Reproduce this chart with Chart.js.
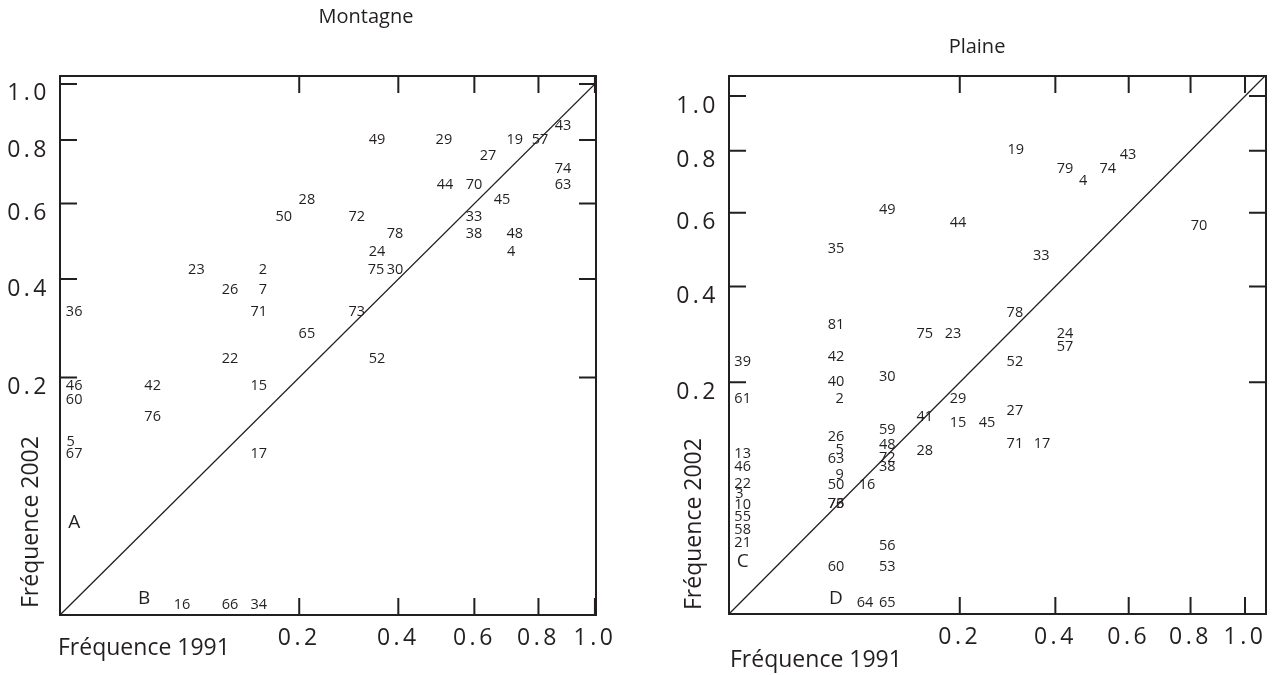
<!DOCTYPE html>
<html>
<head>
<meta charset="utf-8">
<script src="https://cdn.jsdelivr.net/npm/chart.js@4.4.0/dist/chart.umd.min.js"></script>
<style>
  html, body { margin: 0; padding: 0; background: #fff; }
  #wrap { position: relative; width: 1273px; height: 675px; }
  .panel { position: absolute; top: 0; height: 675px; }
  #left { left: 0; width: 636px; }
  #right { left: 636px; width: 637px; }
</style>
</head>
<body>
<div id="wrap">
  <div class="panel" id="left"><canvas id="montagne"></canvas></div>
  <div class="panel" id="right"><canvas id="plaine"></canvas></div>
</div>
<script>
const tickValues = [0.2, 0.4, 0.6, 0.8, 1.0];

// Montagne : numéro de l'espèce, fréquence 1991 (x), fréquence 2002 (y)
const montagneLabels = ['28','50','23','2','26','7','36','71','65','22',
  '46','42','15','60','76','5','67','17','16','66',
  '34','43','49','29','19','57','27','74','44','70',
  '63','45','72','33','78','38','48','24','4','75',
  '30','73','52'];
const montagneX = [0.213,0.175,0.065,0.144,0.101,0.144,0.0007,0.138,0.213,0.101,
  0.0007,0.030,0.138,0.0007,0.030,0.0004,0.0007,0.138,0.052,0.101,
  0.138,0.884,0.351,0.515,0.723,0.805,0.640,0.884,0.518,0.599,
  0.884,0.683,0.308,0.599,0.392,0.599,0.723,0.351,0.711,0.349,
  0.392,0.308,0.351];
const montagneY = [0.611,0.562,0.422,0.422,0.375,0.375,0.326,0.326,0.280,0.232,
  0.186,0.186,0.186,0.164,0.139,0.106,0.092,0.092,0.0004,0.0004,
  0.0004,0.848,0.800,0.800,0.800,0.800,0.747,0.705,0.656,0.656,
  0.656,0.611,0.562,0.562,0.515,0.515,0.515,0.467,0.467,0.422,
  0.422,0.326,0.232];
const montagneZones = ['A', 'B'];
const montagneZonesX = [0.0007, 0.0247];
const montagneZonesY = [0.030, 0.0009];

// Plaine
const plaineLabels = ['49','44','35','81','75','23','39','42','40','30',
  '19','43','79','74','4','70','33','78','24','57',
  '52','61','2','29','41','15','59','26','48','13',
  '5','28','63','72','46','38','9','22','50','16',
  '3','10','73','76','55','58','21','56','60','53',
  '64','65','27','45','71','17'];
const plaineX = [0.094,0.197,0.043,0.043,0.144,0.1885,0.0007,0.043,0.043,0.094,
  0.309,0.598,0.424,0.539,0.471,0.830,0.366,0.307,0.424,0.424,
  0.307,0.0007,0.046,0.197,0.144,0.197,0.094,0.043,0.094,0.0007,
  0.046,0.144,0.043,0.094,0.0007,0.094,0.046,0.0007,0.043,0.0715,
  0.0004,0.0007,0.043,0.043,0.0007,0.0007,0.0007,0.094,0.043,0.094,
  0.0695,0.094,0.307,0.25,0.307,0.368];
const plaineY = [0.608,0.570,0.497,0.311,0.292,0.292,0.237,0.246,0.200,0.209,
  0.802,0.785,0.738,0.738,0.699,0.561,0.478,0.338,0.292,0.266,
  0.237,0.172,0.172,0.172,0.145,0.136,0.126,0.117,0.106,0.095,
  0.100,0.099,0.0895,0.0907,0.0805,0.0805,0.072,0.063,0.062,0.062,
  0.0537,0.0443,0.0451,0.0451,0.0351,0.0263,0.0188,0.0172,0.0082,0.0082,
  0.00045,0.00045,0.154,0.136,0.108,0.108];
const plaineZones = ['C', 'D'];
const plaineZonesX = [0.0007, 0.043];
const plaineZonesY = [0.0101, 0.00084];

const ink = '#231f20';
const family = '"Open Sans", "Noto Sans", sans-serif';

// échelle racine carrée
class SqrtScale extends Chart.LinearScale {
  static id = 'sqrt';
  static defaults = Chart.LinearScale.defaults;
  getPixelForValue(value) {
    if (value === null || isNaN(value)) return NaN;
    const t = Math.sqrt(Math.max(0, value - this.min) / (this.max - this.min));
    return this.getPixelForDecimal(t);
  }
  getValueForPixel(pixel) {
    const t = this.getDecimalForPixel(pixel);
    return this.min + t * t * (this.max - this.min);
  }
}
Chart.register(SqrtScale);

const points = (xs, ys) => xs.map((x, i) => ({ x: x, y: ys[i] }));

// letter spacing only for the tick labels
const spacing = {
  id: 'spacing',
  beforeDraw(chart) { chart.ctx.letterSpacing = '3.5px'; },
  beforeDatasetsDraw(chart) { chart.ctx.letterSpacing = '0px'; }
};

const textLabels = {
  id: 'textLabels',
  afterDatasetsDraw(chart) {
    const ctx = chart.ctx;
    chart.data.datasets.forEach((ds, i) => {
      if (!ds.texts) return;
      const meta = chart.getDatasetMeta(i);
      ctx.save();
      ctx.font = ds.textFont;
      ctx.fillStyle = ink;
      ctx.textAlign = 'center';
      ctx.textBaseline = 'middle';
      meta.data.forEach((pt, j) => ctx.fillText(ds.texts[j], pt.x, pt.y));
      ctx.restore();
    });
  }
};

const frame = {
  id: 'frame',
  afterDraw(chart, args, o) {
    const ctx = chart.ctx;
    const a = chart.chartArea;
    const xs = chart.scales.x, ys = chart.scales.y;
    ctx.save();
    ctx.letterSpacing = '0px';
    ctx.strokeStyle = ink;
    ctx.lineWidth = 2;
    ctx.strokeRect(a.left, a.top, a.right - a.left, a.bottom - a.top);
    ctx.beginPath();
    tickValues.forEach(v => {
      const px = xs.getPixelForValue(v);
      ctx.moveTo(px, a.bottom); ctx.lineTo(px, a.bottom - 17);
      ctx.moveTo(px, a.top); ctx.lineTo(px, a.top + 17);
      const py = ys.getPixelForValue(v);
      ctx.moveTo(a.left, py); ctx.lineTo(a.left + 17, py);
      ctx.moveTo(a.right, py); ctx.lineTo(a.right - 17, py);
    });
    ctx.stroke();

    ctx.fillStyle = ink;
    ctx.font = '20px ' + family;
    ctx.textAlign = 'center';
    ctx.textBaseline = 'alphabetic';
    ctx.fillText(o.title, o.titleX, o.titleY);

    ctx.font = '23px ' + family;
    ctx.textAlign = 'left';
    ctx.fillText('Fréquence 1991', o.xTitleX, o.xTitleY);
    ctx.translate(o.yTitleX, o.yTitleY);
    ctx.rotate(-Math.PI / 2);
    ctx.fillText('Fréquence 2002', 0, 0);
    ctx.restore();
  }
};

function axis(max, size, horizontal) {
  return {
    type: 'sqrt',
    min: 0,
    max: max,
    grid: { display: false, drawTicks: false },
    border: { display: false },
    afterBuildTicks: s => { s.ticks = tickValues.map(v => ({ value: v })); },
    afterFit: s => { if (horizontal) s.height = size; else s.width = size; },
    ticks: {
      autoSkip: false,
      maxRotation: 0,
      padding: horizontal ? 10 : 10,
      labelOffset: horizontal ? 0 : 10,
      color: ink,
      font: { family: family, size: 23 },
      callback: v => v.toFixed(1)
    }
  };
}

function makePanel(id, p) {
  new Chart(document.getElementById(id), {
    type: 'scatter',
    data: {
      datasets: [
        {
          type: 'line',
          data: [{ x: 0, y: 0 }, { x: p.diag, y: p.diag }],
          borderColor: ink,
          borderWidth: 1.3,
          pointRadius: 0
        },
        {
          data: points(p.x, p.y),
          texts: p.labels,
          textFont: '14.5px ' + family,
          pointRadius: 0
        },
        {
          data: points(p.zx, p.zy),
          texts: p.zones,
          textFont: '19px ' + family,
          pointRadius: 0
        }
      ]
    },
    options: {
      responsive: true,
      maintainAspectRatio: false,
      animation: false,
      events: [],
      layout: { padding: { top: 76, right: p.padRight, bottom: 0, left: 0 } },
      scales: {
        x: axis(p.xMax, p.xAxisH, true),
        y: axis(p.yMax, p.yAxisW, false)
      },
      plugins: {
        legend: { display: false },
        tooltip: { enabled: false },
        frame: p.frame
      }
    },
    plugins: [spacing, textLabels, frame]
  });
}

makePanel('montagne', {
  labels: montagneLabels, x: montagneX, y: montagneY,
  zones: montagneZones, zx: montagneZonesX, zy: montagneZonesY,
  xMax: 1.004, yMax: 1.03, diag: 1.03,
  yAxisW: 60, xAxisH: 60, padRight: 40,
  frame: { title: 'Montagne', titleX: 366, titleY: 23,
           xTitleX: 58, xTitleY: 655, yTitleX: 38, yTitleY: 608 }
});

makePanel('plaine', {
  labels: plaineLabels, x: plaineX, y: plaineY,
  zones: plaineZones, zx: plaineZonesX, zy: plaineZonesY,
  xMax: 1.083, yMax: 1.079, diag: 1.083,
  yAxisW: 93, xAxisH: 61, padRight: 7,
  frame: { title: 'Plaine', titleX: 341, titleY: 53,
           xTitleX: 94, xTitleY: 667, yTitleX: 65, yTitleY: 610 }
});
</script>
</body>
</html>
